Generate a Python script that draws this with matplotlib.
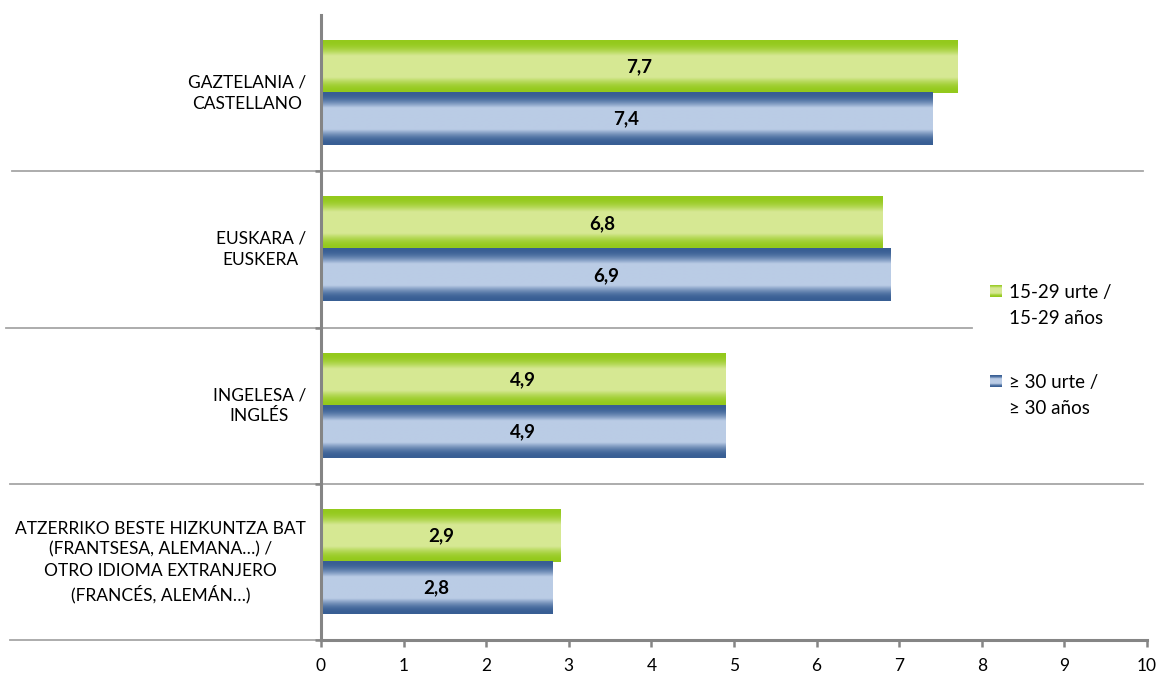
import numpy as np
import matplotlib
matplotlib.use("Agg")
import matplotlib.pyplot as plt
import matplotlib.transforms as mtransforms

plt.rcParams['font.family'] = ['Lato', 'DejaVu Sans']

categories = ["GAZTELANIA /\nCASTELLANO",
              "EUSKARA /\nEUSKERA",
              "INGELESA /\nINGLÉS",
              "ATZERRIKO BESTE HIZKUNTZA BAT\n(FRANTSESA, ALEMANA…) /\nOTRO IDIOMA EXTRANJERO\n(FRANCÉS, ALEMÁN…)"]
young = [7.7, 6.8, 4.9, 2.9]
older = [7.4, 6.9, 4.9, 2.8]
series_labels = ["15-29 urte /\n15-29 años", "≥ 30 urte /\n≥ 30 años"]
xticks = [0, 1, 2, 3, 4, 5, 6, 7, 8, 9, 10]

W, H = 1164, 679
fig = plt.figure(figsize=(W / 100, H / 100), dpi=100)
ax = fig.add_axes([321 / W, 1 - 640 / H, (1147 - 321) / W, (640 - 15) / H])

green_dark = np.array([0.58, 0.79, 0.11])
green_light = np.array([0.84, 0.91, 0.58])
blue_dark = np.array([0.22, 0.37, 0.58])
blue_light = np.array([0.73, 0.80, 0.90])


def gradient(dark, light, n=128):
    t = np.linspace(0, 1, n)
    f = np.clip(np.sin(np.pi * t) / 0.8, 0, 1) ** 2.5
    cols = dark[None, :] * (1 - f[:, None]) + light[None, :] * f[:, None]
    return cols[:, None, :]


g_img = gradient(green_dark, green_light)
b_img = gradient(blue_dark, blue_light)

bh = 1 / 3
y = np.arange(len(categories))
for i in range(len(categories)):
    for val, off, img in ((young[i], -bh / 2, g_img), (older[i], bh / 2, b_img)):
        yc = y[i] + off
        ax.imshow(img, extent=[0, val, yc + bh / 2, yc - bh / 2], aspect='auto',
                  interpolation='bilinear', zorder=2)
        ax.text(val / 2, yc, f"{val:.1f}".replace('.', ','), ha='center', va='center',
                fontsize=13.5, fontweight='bold', color='black', zorder=3)

ax.set_xlim(0, 10)
ax.set_ylim(3.5, -0.5)
ax.set_aspect('auto')

for s in ['top', 'right']:
    ax.spines[s].set_visible(False)
for s in ['left', 'bottom']:
    ax.spines[s].set_color('#858585')
    ax.spines[s].set_linewidth(2.2)

ax.set_xticks(xticks)
ax.set_xticklabels([str(v) for v in xticks], fontsize=12.5)
ax.tick_params(axis='x', length=5, width=1.8, color='#858585', pad=8)
ax.set_yticks([0.5, 1.5, 2.5, 3.5])
ax.set_yticklabels([])
ax.tick_params(axis='y', length=4, width=1.8, color='#858585')

# category labels
trans = mtransforms.offset_copy(ax.get_yaxis_transform(), fig=fig, x=-15, y=0, units='dots')
for i, c in enumerate(categories):
    ax.text(0, y[i], c, transform=trans, ha='right', va='center', multialignment='center',
            fontsize=12.5, linespacing=1.38)

# separator lines
sep_tr = mtransforms.blended_transform_factory(fig.transFigure, ax.transData)
sep = [(0.5, 12, 1143), (1.5, 6, 972), (2.5, 10, 1143), (3.5, 10, 1147)]
for yy, x0, x1 in sep:
    ax.plot([x0 / W, x1 / W], [yy, yy], transform=sep_tr, color='#a6a6a6', lw=1.3,
            clip_on=False, zorder=1)

# legend
for (img, ytop, label, ytxt) in ((g_img, 285, series_labels[0], 305.5),
                                (b_img, 375, series_labels[1], 395.5)):
    lax = fig.add_axes([990 / W, 1 - (ytop + 12) / H, 12 / W, 12 / H])
    lax.imshow(img, aspect='auto', interpolation='bilinear')
    lax.axis('off')
    fig.text(1009 / W, 1 - ytxt / H, label, ha='left', va='center', fontsize=13.5,
             linespacing=1.6)

fig.savefig("out.png", dpi=100)
